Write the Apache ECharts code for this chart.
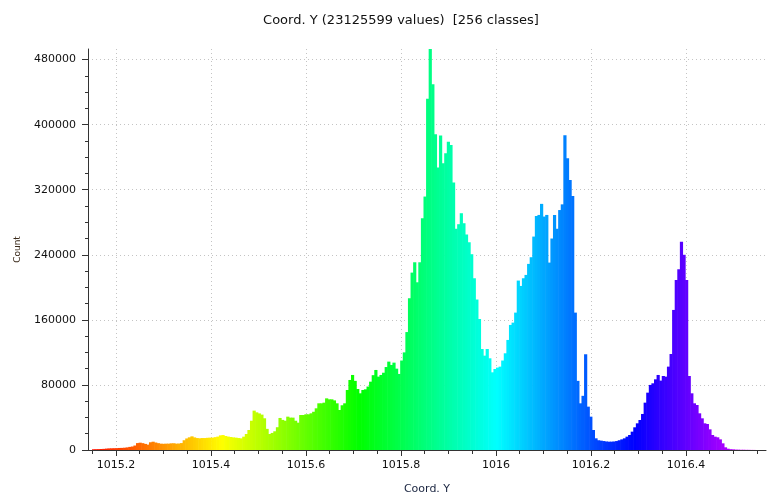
<!DOCTYPE html>
<html>
<head>
<meta charset="utf-8">
<script src="https://cdn.jsdelivr.net/npm/echarts@6/dist/echarts.min.js"></script>
<style>
  html, body { margin: 0; padding: 0; background: #ffffff; }
  #chart { width: 767px; height: 494px; }
</style>
</head>
<body>
<div id="chart"></div>
<script>
// Histogram of the Y coordinate, 256 classes
const titleText = 'Coord. Y (23125599 values)  [256 classes]';
const xName = 'Coord. Y';
const yName = 'Count';

// value range covered by the classes (first class start, last class end)
const valueRange = [1015.1495, 1016.5453];

// count per class
const counts = [
  900, 1000, 1100, 1200, 1400, 1700, 2000, 2100, 2200, 2300,
  2500, 2600, 2800, 3200, 3800, 4300, 5500, 8500, 9000, 8400,
  7500, 6600, 9500, 10200, 9200, 8400, 7800, 7600, 7800, 7800,
  8200, 8300, 7800, 8000, 8500, 12000, 14200, 15600, 16800, 15500,
  14700, 14400, 14700, 14700, 15000, 15200, 15200, 15800, 16500, 18000,
  18400, 17200, 16500, 16000, 15500, 15200, 14700, 14300, 16400, 19700,
  24600, 36000, 48400, 46300, 45000, 43500, 39000, 26000, 19700, 21000,
  23000, 28000, 39400, 37000, 36000, 41000, 39800, 39800, 36000, 33600,
  43000, 43000, 43900, 43900, 45100, 47000, 51250, 57400, 57400, 58200,
  63500, 62300, 62300, 61000, 57400, 49200, 55000, 57400, 73800, 86100,
  92250, 85000, 75000, 69700, 73800, 74600, 78000, 84000, 92000, 98400,
  90200, 92250, 95000, 102000, 108650, 104550, 107400, 100000, 93500, 110000,
  120000, 145000, 186500, 218100, 230800, 206200, 230800, 285000, 311600, 431700,
  493000, 449800, 388300, 347300, 386600, 352600, 364900, 379000, 375000, 329000,
  272000, 277600, 291100, 278800, 265000, 255400, 240700, 211150, 185000, 161100,
  124200, 116000, 124200, 112750, 95500, 99600, 101300, 102500, 110000, 118900,
  135300, 153750, 156600, 168900, 208300, 201700, 211150, 215250, 228800, 237000,
  262400, 287800, 289000, 302600, 287000, 289000, 230400, 260000, 289000, 272000,
  295000, 302000, 387000, 358700, 332000, 312300, 168900, 85000, 57400, 66600,
  117700, 53300, 41000, 24600, 14350, 12000, 11500, 11000, 10500, 10250,
  10250, 10500, 11000, 12000, 13100, 14350, 16400, 18450, 22550, 27900,
  32800, 36900, 44300, 58200, 70500, 80000, 82000, 86900, 92250, 85300,
  91000, 90200, 102500, 118000, 172200, 209000, 222200, 256000, 240000, 209000,
  91000, 69700, 57400, 55350, 45100, 38950, 32800, 32000, 25400, 18450,
  16400, 15600, 13100, 8200, 3300, 1600, 1000, 800, 500, 400,
  300, 300, 200, 200, 100, 100
];

// axis ticks
const xTicks = [1015.2, 1015.4, 1015.6, 1015.8, 1016, 1016.2, 1016.4];
const xMinorTicks = [1015.15, 1015.25, 1015.3, 1015.35, 1015.45, 1015.5, 1015.55,
  1015.65, 1015.7, 1015.75, 1015.85, 1015.9, 1015.95, 1016.05, 1016.1, 1016.15,
  1016.25, 1016.3, 1016.35, 1016.45, 1016.5, 1016.55];
const yTicks = [0, 80000, 160000, 240000, 320000, 400000, 480000];
const yMinorTicks = [20000, 40000, 60000, 100000, 120000, 140000, 180000, 200000,
  220000, 260000, 280000, 300000, 340000, 360000, 380000, 420000, 440000, 460000];

// visible extent of the axes
const xExtent = [1015.1411, 1016.5685];
const yExtent = [0, 493000];

const step = (valueRange[1] - valueRange[0]) / counts.length;
const bins = counts.map((c, i) => [valueRange[0] + i * step, valueRange[0] + (i + 1) * step, c, i]);

// rainbow colour ramp along the classes: red -> yellow -> green -> cyan -> blue -> violet
function classColor(i) {
  const hue = 4 + 1.13 * i;
  return 'hsl(' + hue.toFixed(1) + ',100%,50%)';
}

const font = 'DejaVu Sans';
const axisColor = '#333333';

const chart = echarts.init(document.getElementById('chart'), null, { renderer: 'canvas' });
chart.setOption({
  animation: false,
  backgroundColor: '#ffffff',
  title: {
    text: titleText,
    left: 396,
    top: 9,
    textAlign: 'center',
    textStyle: { fontFamily: font, fontSize: 13, fontWeight: 'normal', color: '#111111' }
  },
  grid: { left: 88, right: 1, top: 49, bottom: 44, containLabel: false, outerBoundsMode: 'none' },
  xAxis: [
    {
      type: 'value',
      min: xExtent[0],
      max: xExtent[1],
      name: xName,
      nameLocation: 'middle',
      nameGap: 34,
      nameTextStyle: { fontFamily: font, fontSize: 11, color: '#1a2540' },
      axisLine: { show: true, lineStyle: { color: axisColor, width: 1 } },
      axisTick: { show: true, customValues: xTicks, length: 6, lineStyle: { color: axisColor } },
      axisLabel: {
        customValues: xTicks,
        margin: 10,
        fontFamily: font,
        fontSize: 11,
        color: '#111111',
        formatter: v => String(parseFloat(v.toFixed(1)))
      },
      splitLine: { show: true, lineStyle: { type: [1, 3], color: '#c4c4c4', width: 1 } }
    },
    {
      type: 'value',
      position: 'bottom',
      min: xExtent[0],
      max: xExtent[1],
      axisLine: { show: false },
      axisTick: { show: true, customValues: xMinorTicks, length: 4, lineStyle: { color: axisColor } },
      axisLabel: { show: false },
      splitLine: { show: false }
    }
  ],
  yAxis: [
    {
      type: 'value',
      min: yExtent[0],
      max: yExtent[1],
      name: yName,
      nameLocation: 'middle',
      nameGap: 66,
      nameTextStyle: { fontFamily: font, fontSize: 9, color: '#3a2a1a' },
      axisLine: { show: true, lineStyle: { color: axisColor, width: 1 } },
      axisTick: { show: true, customValues: yTicks, length: 6, lineStyle: { color: axisColor } },
      axisLabel: {
        customValues: yTicks,
        margin: 12,
        fontFamily: font,
        fontSize: 11,
        color: '#111111',
        formatter: v => String(Math.round(v))
      },
      splitLine: { show: true, lineStyle: { type: [1, 3], color: '#c4c4c4', width: 1 } }
    },
    {
      type: 'value',
      position: 'left',
      min: yExtent[0],
      max: yExtent[1],
      axisLine: { show: false },
      axisTick: { show: true, customValues: yMinorTicks, length: 3, lineStyle: { color: axisColor } },
      axisLabel: { show: false },
      splitLine: { show: false }
    }
  ],
  series: [
    {
      type: 'custom',
      xAxisIndex: 0,
      yAxisIndex: 0,
      clip: true,
      encode: { x: [0, 1], y: 2 },
      data: bins,
      renderItem: function (params, api) {
        const top = api.coord([api.value(0), api.value(2)]);
        const base = api.coord([api.value(1), 0]);
        // slight overlap so neighbouring classes read as one filled profile
        return {
          type: 'rect',
          shape: { x: top[0], y: top[1], width: base[0] - top[0] + 0.6, height: base[1] - top[1] },
          style: { fill: classColor(api.value(3)) }
        };
      }
    }
  ]
});
</script>
</body>
</html>
